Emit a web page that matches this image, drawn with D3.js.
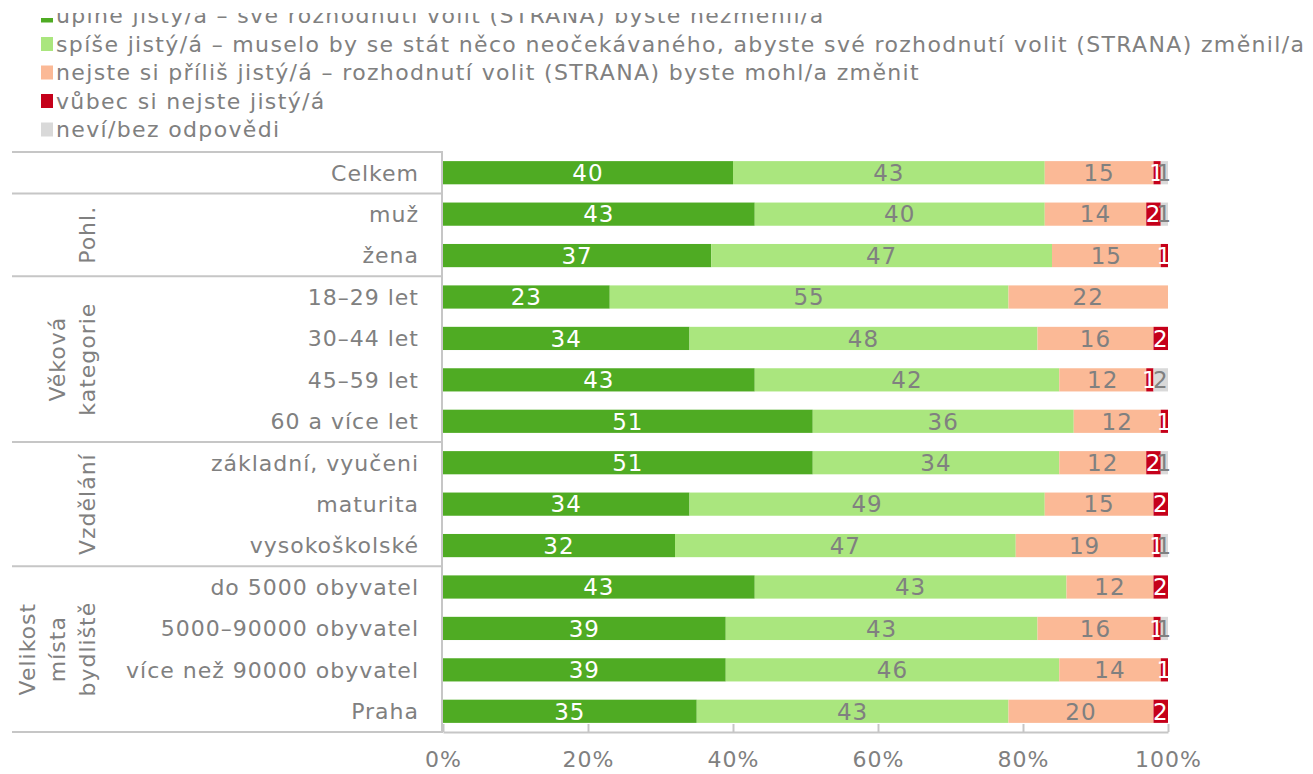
<!DOCTYPE html>
<html>
<head>
<meta charset="utf-8">
<script src="https://cdn.jsdelivr.net/npm/d3@7"></script>
<style>
    body { margin: 0; background: #fff; }
    svg { font-family: "DejaVu Sans", Verdana, sans-serif; }
    .cat-label, .group-label, .tick-label, .legend-text { fill: #808080; }
</style>
</head>
<body>
<div id="chart"></div>
<script>
// answer categories (legend order = stacking order)
const series = [
    "úplně jistý/á – své rozhodnutí volit (STRANA) byste nezměnil/a",
    "spíše jistý/á – muselo by se stát něco neočekávaného, abyste své rozhodnutí volit (STRANA) změnil/a",
    "nejste si příliš jistý/á – rozhodnutí volit (STRANA) byste mohl/a změnit",
    "vůbec si nejste jistý/á",
    "neví/bez odpovědi"
];
const colors = ["#4fab23", "#aae67e", "#fbb996", "#c5001a", "#d9d9d9"];
const labelColors = ["#ffffff", "#808080", "#808080", "#ffffff", "#808080"];

// rows of the table
const categories = [
    "Celkem", "muž", "žena",
    "18–29 let", "30–44 let", "45–59 let", "60 a více let",
    "základní, vyučeni", "maturita", "vysokoškolské",
    "do 5000 obyvatel", "5000–90000 obyvatel", "více než 90000 obyvatel", "Praha"
];

// values per series, in the same order as categories (%)
const uplneJisty  = [40, 43, 37, 23, 34, 43, 51, 51, 34, 32, 43, 39, 39, 35];
const spiseJisty  = [43, 40, 47, 55, 48, 42, 36, 34, 49, 47, 43, 43, 46, 43];
const nejstePrilis = [15, 14, 15, 22, 16, 12, 12, 12, 15, 19, 12, 16, 14, 20];
const vubecNejste = [1, 2, 1, 0, 2, 1, 1, 2, 2, 1, 2, 1, 1, 2];
const nevi        = [1, 1, 0, 0, 0, 2, 0, 1, 0, 1, 0, 1, 0, 0];

// row groups on the left
const groups = [
    { lines: [""], first: "Celkem", last: "Celkem" },
    { lines: ["Pohl."], first: "muž", last: "žena" },
    { lines: ["Věková", "kategorie"], first: "18–29 let", last: "60 a více let" },
    { lines: ["Vzdělání"], first: "základní, vyučeni", last: "vysokoškolské" },
    { lines: ["Velikost", "místa", "bydliště"], first: "do 5000 obyvatel", last: "Praha" }
];

const xTicks = [0, 20, 40, 60, 80, 100];

const width = 1313,
    height = 774,
    fontSize = 22,
    margin = { left: 443, right: 145, top: 152, bottom: 42 },
    tableLeft = 12;

const svg = d3.select("#chart").append("svg")
    .attr("width", width)
    .attr("height", height);

// build the stacked table
const valueLists = [uplneJisty, spiseJisty, nejstePrilis, vubecNejste, nevi];
const rows = categories.map((c, i) => {
    const row = { cat: c };
    series.forEach((s, j) => row[s] = valueLists[j][i]);
    return row;
});
const stacked = d3.stack().keys(series)(rows);

const x = d3.scaleLinear()
    .domain([0, 100])
    .range([margin.left, width - margin.right]);

const y = d3.scaleBand()
    .domain(categories)
    .range([margin.top, height - margin.bottom])
    .paddingInner(0.44)
    .paddingOuter(0.22);

const gap = (y.step() - y.bandwidth()) / 2;

// table lines
const lineColor = "#c6c6c6";
const tableG = svg.append("g").attr("class", "table");
const hLines = [margin.top].concat(groups.map(g => y(g.last) + y.bandwidth() + gap));
tableG.selectAll("line.h").data(hLines).enter().append("line")
    .attr("class", "h")
    .attr("x1", tableLeft)
    .attr("x2", margin.left)
    .attr("y1", d => d)
    .attr("y2", d => d)
    .attr("stroke", lineColor)
    .attr("stroke-width", 2);
tableG.append("line")
    .attr("x1", margin.left - 1).attr("x2", margin.left - 1)
    .attr("y1", margin.top).attr("y2", height - margin.bottom + 1)
    .attr("stroke", lineColor)
    .attr("stroke-width", 2);

// category labels
svg.append("g").selectAll("text").data(categories).enter().append("text")
    .attr("class", "cat-label")
    .attr("x", margin.left - 24)
    .attr("y", d => y(d) + y.bandwidth() / 2)
    .attr("dy", "0.36em")
    .attr("text-anchor", "end")
    .style("font-size", fontSize + "px")
    .style("letter-spacing", "1px")
    .text(d => d);

// group labels, rotated
const groupG = svg.append("g").selectAll("text").data(groups.filter(g => g.lines[0] !== "")).enter().append("text")
    .attr("class", "group-label")
    .attr("transform", d => {
        const cy = (y(d.first) + y(d.last) + y.bandwidth()) / 2;
        const cx = 87 - (d.lines.length - 1) * 30;
        return "translate(" + cx + "," + cy + ") rotate(-90)";
    })
    .attr("text-anchor", "middle")
    .style("font-size", fontSize + "px")
    .style("letter-spacing", "1px");
groupG.selectAll("tspan").data(d => d.lines).enter().append("tspan")
    .attr("x", 0)
    .attr("dy", (d, i) => i === 0 ? "0.36em" : "1.36em")
    .text(d => d);

// bars
const barG = svg.append("g").attr("class", "bars");
const layers = barG.selectAll("g.layer").data(stacked).enter().append("g")
    .attr("class", "layer")
    .attr("fill", (d, i) => colors[i]);
layers.selectAll("rect").data(d => d).enter().append("rect")
    .attr("x", d => x(d[0]))
    .attr("y", d => y(d.data.cat))
    .attr("width", d => x(d[1]) - x(d[0]))
    .attr("height", y.bandwidth());

// value labels
const labelG = svg.append("g").attr("class", "values");
stacked.forEach((layer, i) => {
    labelG.selectAll("text.s" + i).data(layer.filter(d => d[1] - d[0] > 0)).enter().append("text")
        .attr("class", "s" + i)
        .attr("x", d => (x(d[0]) + x(d[1])) / 2)
        .attr("y", d => y(d.data.cat) + y.bandwidth() / 2)
        .attr("dy", "0.36em")
        .attr("text-anchor", "middle")
        .attr("fill", labelColors[i])
        .style("font-size", "23px")
        .style("letter-spacing", "1px")
        .text(d => d[1] - d[0]);
});

// x axis, ticks pointing up
const xAxis = d3.axisBottom(x)
    .tickValues(xTicks)
    .tickSizeInner(-8)
    .tickSizeOuter(0)
    .tickPadding(19)
    .tickFormat(d => d + "%");
const axisG = svg.append("g")
    .attr("transform", "translate(0," + (height - margin.bottom) + ")")
    .call(xAxis);
axisG.select(".domain").attr("stroke", lineColor).attr("stroke-width", 2);
axisG.selectAll(".tick line").attr("stroke", lineColor).attr("stroke-width", 2);
axisG.selectAll(".tick text")
    .attr("class", "tick-label")
    .attr("fill", "#808080")
    .style("font-size", fontSize + "px")
    .style("font-family", "'DejaVu Sans', Verdana, sans-serif")
    .style("letter-spacing", "1px");

// legend (top of it is cut off in the original)
svg.append("clipPath").attr("id", "legendClip")
    .append("rect").attr("x", 0).attr("y", 13).attr("width", width).attr("height", 140);
svg.append("clipPath").attr("id", "swatchClip")
    .append("rect").attr("x", 0).attr("y", 18).attr("width", width).attr("height", 140);
const legendY = i => 15.5 + i * 28.5;

svg.append("g")
    .attr("clip-path", "url(#swatchClip)")
    .selectAll("rect").data(series).enter().append("rect")
    .attr("x", 41)
    .attr("y", (d, i) => legendY(i) - 7)
    .attr("width", 12)
    .attr("height", 14)
    .attr("fill", (d, i) => colors[i]);

svg.append("g")
    .attr("clip-path", "url(#legendClip)")
    .selectAll("text").data(series).enter().append("text")
    .attr("class", "legend-text")
    .attr("x", 56)
    .attr("y", (d, i) => legendY(i))
    .attr("dy", "0.36em")
    .style("font-size", "22px")
    .style("letter-spacing", "1.35px")
    .text(d => d);
</script>
</body>
</html>
